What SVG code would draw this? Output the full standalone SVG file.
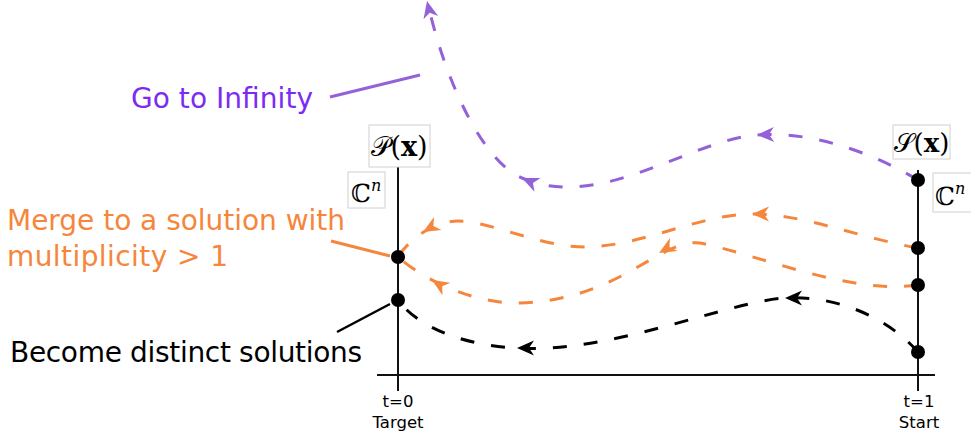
<svg xmlns="http://www.w3.org/2000/svg" width="971" height="440" viewBox="0 0 971 440">
<style>
.ax{stroke:#111;stroke-width:2;fill:none}
.dot{fill:#000}
.box{fill:#fff;stroke:#d0d0d0;stroke-width:1}
.math{font-family:"DejaVu Serif","Liberation Serif",serif;fill:#000}
.lbl{font-family:"DejaVu Sans",Verdana,sans-serif;font-size:28px}
.tick{font-family:"DejaVu Sans",Verdana,sans-serif;font-size:16.5px;fill:#000;text-anchor:middle}
.dash{fill:none;stroke-width:3;stroke-dasharray:14 17}
.pur{stroke:#9461d9}
.org{stroke:#f5863c}
.blk{stroke:#000}
</style>
<defs>
<path id="ah" d="M0,0 L-17,-7.5 L-12,0 L-17,7.5 Z"/>
</defs>
<g id="axes">
<line class="ax" x1="398" y1="166" x2="398" y2="391"/>
<line class="ax" x1="918" y1="170" x2="918" y2="391"/>
<line class="ax" x1="377" y1="375" x2="935" y2="375"/>
</g>
<g id="label-P">
<rect class="box" x="369" y="125" width="61" height="42"/>
<text class="math" x="399.5" y="156" font-size="27" text-anchor="middle">𝒫(<tspan font-weight="bold">x</tspan>)</text>
</g>
<g id="label-Cn-left">
<rect class="box" x="348" y="172" width="37" height="36"/>
<text class="math" x="351" y="202" font-size="25">ℂ<tspan font-style="italic" font-size="16" dy="-11">n</tspan></text>
</g>
<g id="label-S">
<rect class="box" x="893" y="125" width="57" height="34"/>
<text class="math" x="921.5" y="152" font-size="26" text-anchor="middle">𝒮(<tspan font-weight="bold">x</tspan>)</text>
</g>
<g id="label-Cn-right">
<rect class="box" x="933" y="173" width="45" height="39"/>
<text class="math" x="935" y="205" font-size="25">ℂ<tspan font-style="italic" font-size="16" dy="-11">n</tspan></text>
</g>
<g id="connectors">
<path class="dash pur" d="M918,180 C885,160 820,130 757,135 C690,140 600,212 522,178 C482,161 445,80 428,4"/>
<use href="#ah" fill="#9461d9" transform="translate(757,135) rotate(178)"/>
<use href="#ah" fill="#9461d9" transform="translate(522,178) rotate(204)"/>
<use href="#ah" fill="#9461d9" transform="translate(427,1) rotate(257)"/>
<path class="dash org" d="M918,248 C860,238 800,213 752,214 C700,214 640,247 585,247 C540,247 490,221 458,221 C435,221 410,238 398,257"/>
<use href="#ah" fill="#f5863c" transform="translate(752,214) rotate(180)"/>
<use href="#ah" fill="#f5863c" transform="translate(423,232) rotate(150)"/>
<path class="dash org" d="M918,285 C850,295 760,255 700,243 C660,238 620,300 520,303 C480,304 430,285 398,257"/>
<use href="#ah" fill="#f5863c" transform="translate(659,253) rotate(150)"/>
<use href="#ah" fill="#f5863c" transform="translate(432,280) rotate(212)"/>
<path class="dash blk" d="M918,352 C890,320 840,295 785,298 C730,301 610,354 517,348 C470,346 420,330 398,300"/>
<use href="#ah" fill="#000" transform="translate(785,298) rotate(180)"/>
<use href="#ah" fill="#000" transform="translate(517,348) rotate(180)"/>
<line x1="330" y1="97" x2="420" y2="75" stroke="#9461d9" stroke-width="3"/>
<line x1="331" y1="241" x2="390" y2="256" stroke="#f5863c" stroke-width="3"/>
<line x1="337" y1="332" x2="390" y2="304" stroke="#000" stroke-width="2.5"/>
</g>
<g id="dots">
<circle class="dot" cx="398" cy="257" r="7"/>
<circle class="dot" cx="398" cy="300" r="7"/>
<circle class="dot" cx="918" cy="180" r="7"/>
<circle class="dot" cx="918" cy="248" r="7"/>
<circle class="dot" cx="918" cy="285" r="7"/>
<circle class="dot" cx="918" cy="352" r="7"/>
</g>
<g id="label-infinity">
<text class="lbl" x="131" y="108" fill="#7b2cf0" textLength="182">Go to Infinity</text>
</g>
<g id="label-merge">
<text class="lbl" x="7" y="230" fill="#f5863c" textLength="338">Merge to a solution with</text>
<text class="lbl" x="7" y="266" fill="#f5863c" textLength="221">multiplicity &gt; 1</text>
</g>
<g id="label-distinct">
<text class="lbl" x="10" y="362" fill="#000" textLength="352">Become distinct solutions</text>
</g>
<g id="ticks">
<text class="tick" x="398" y="407">t=0</text>
<text class="tick" x="398" y="428">Target</text>
<text class="tick" x="919" y="407">t=1</text>
<text class="tick" x="919" y="428">Start</text>
</g>
</svg>
